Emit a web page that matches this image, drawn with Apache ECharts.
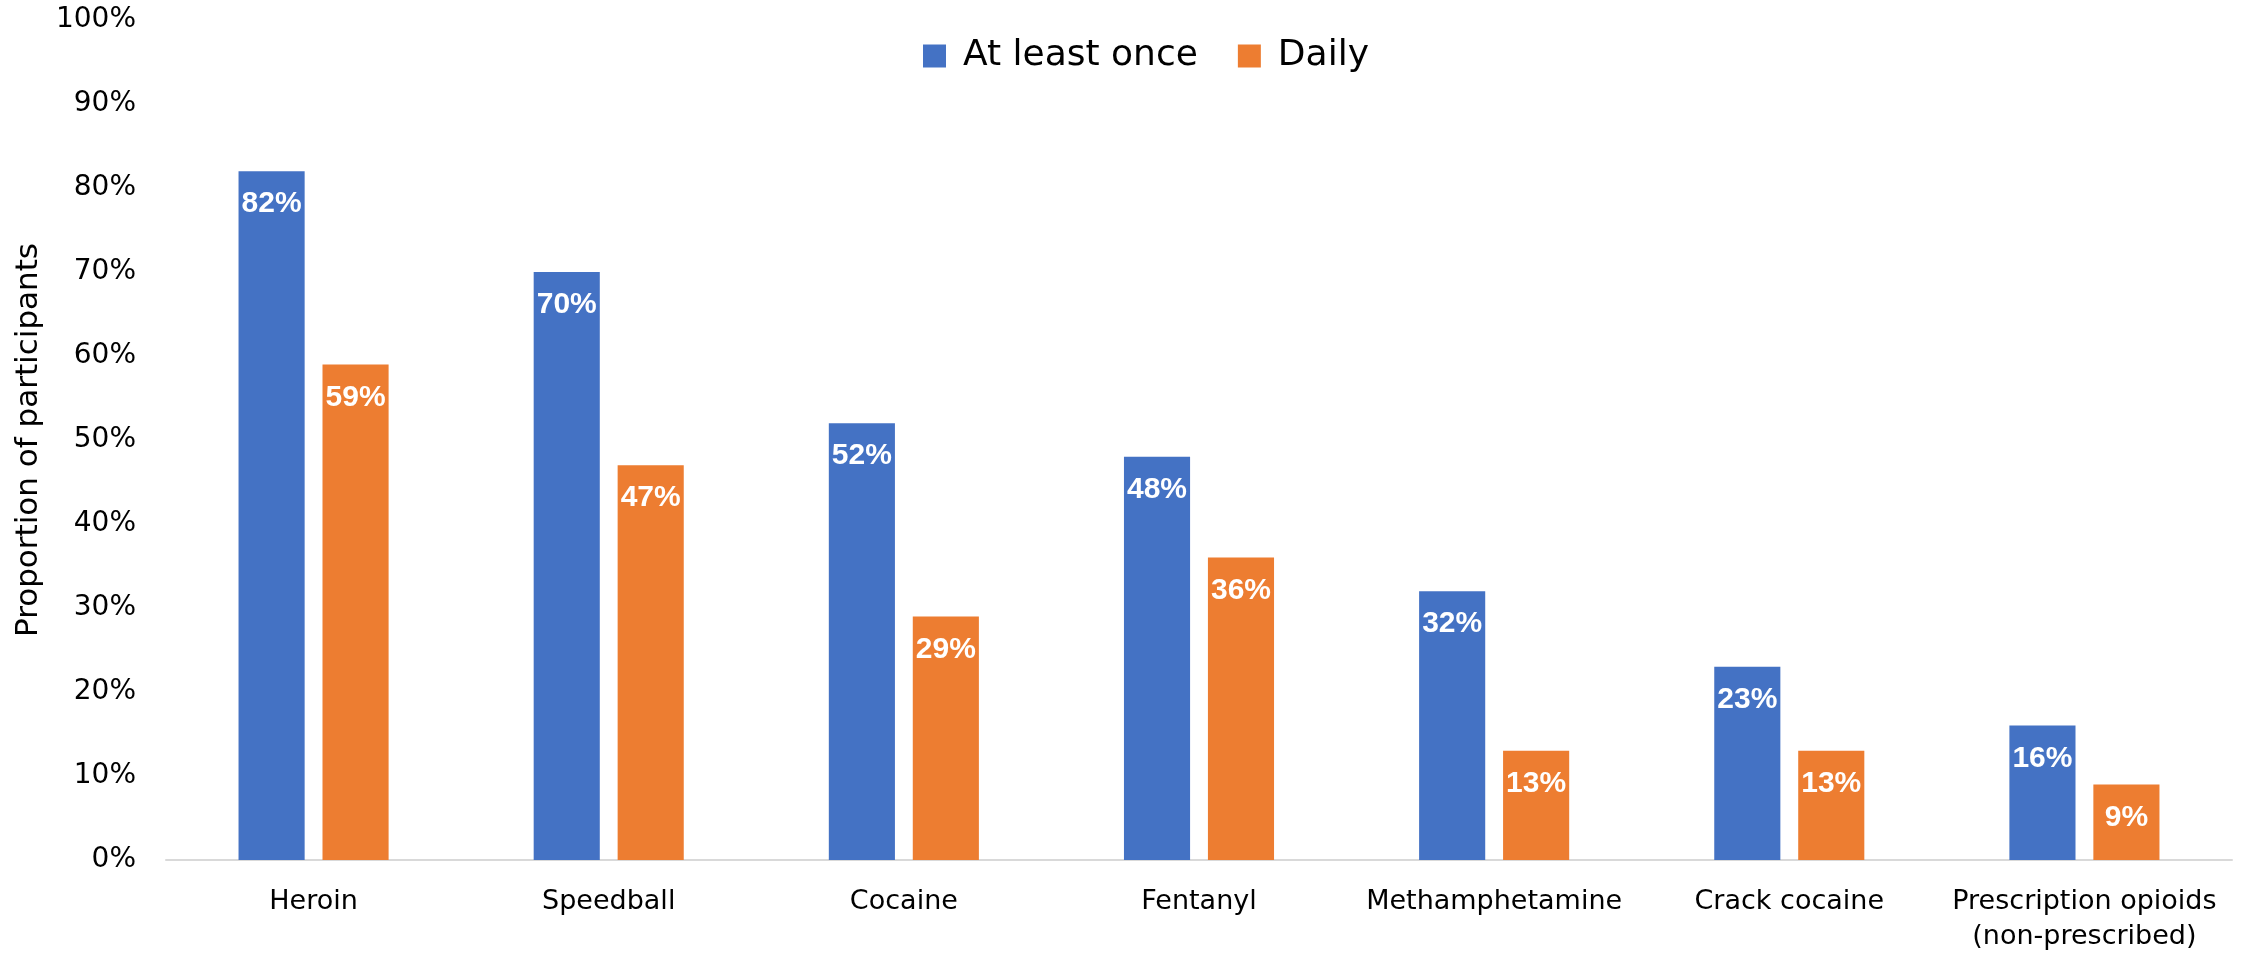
<!DOCTYPE html>
<html>
<head>
<meta charset="utf-8">
<script src="https://cdn.jsdelivr.net/npm/echarts@6/dist/echarts.min.js"></script>
<style>
html,body{margin:0;padding:0;background:#fff;}
#c{width:2246px;height:957px;}
</style>
</head>
<body>
<div id="c"></div>
<script>
const categories = ['Heroin','Speedball','Cocaine','Fentanyl','Methamphetamine','Crack cocaine','Prescription opioids\n(non-prescribed)'];
const atLeastOnce = [82, 70, 52, 48, 32, 23, 16];
const daily = [59, 47, 29, 36, 13, 13, 9];
const seriesNames = ['At least once', 'Daily'];
const yTicks = {min: 0, max: 100, interval: 10};

const FONT = 'DejaVu Sans';
const chart = echarts.init(document.getElementById('c'));
const labelCfg = {
  show: true, position: 'insideTop', distance: 18,
  color: '#fff', fontFamily: 'Liberation Sans', fontWeight: 'bold', fontSize: 30,
  formatter: p => p.value + '%'
};
chart.setOption({
  animation: false,
  textStyle: {fontFamily: FONT},
  legend: {
    top: 33, left: 918,
    itemWidth: 23, itemHeight: 23, itemGap: 40,
    icon: 'rect',
    textStyle: {fontFamily: FONT, fontSize: 36, color: '#000', padding: [0, 0, 0, 12]},
    data: seriesNames
  },
  grid: {left: 166, right: 14, top: 20, bottom: 97, containLabel: false, outerBoundsMode: 'none'},
  xAxis: {
    type: 'category', data: categories,
    axisLine: {lineStyle: {color: '#d9d9d9', width: 2}},
    axisTick: {show: false},
    axisLabel: {color: '#000', fontFamily: FONT, fontSize: 27, lineHeight: 35, margin: 24, interval: 0}
  },
  yAxis: {
    type: 'value', min: yTicks.min, max: yTicks.max, interval: yTicks.interval,
    name: 'Proportion of participants', nameLocation: 'middle', nameGap: 122,
    nameTextStyle: {color: '#000', fontFamily: FONT, fontSize: 31},
    axisLine: {show: false}, axisTick: {show: false}, splitLine: {show: false},
    axisLabel: {color: '#000', fontFamily: FONT, fontSize: 28, margin: 30, formatter: '{value}%'}
  },
  series: [
    {name: seriesNames[0], type: 'bar', data: atLeastOnce, barWidth: '22.4%', barGap: '27%',
     itemStyle: {color: '#4472C4'}, label: labelCfg},
    {name: seriesNames[1], type: 'bar', data: daily, barWidth: '22.4%', barGap: '27%',
     itemStyle: {color: '#ED7D31'}, label: labelCfg}
  ]
});
</script>
</body>
</html>
